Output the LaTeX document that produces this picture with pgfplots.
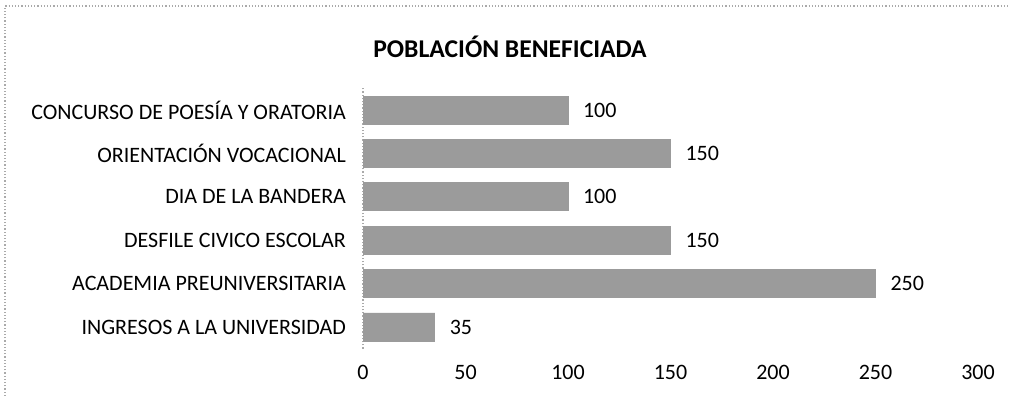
\documentclass[border=0pt]{standalone}
\usepackage{fontspec}
\setmainfont{Carlito}
\usepackage{pgfplots}
\pgfplotsset{compat=1.18}
\definecolor{barfill}{RGB}{155,155,155}
\definecolor{framegray}{RGB}{170,170,170}

\begin{document}
\begin{tikzpicture}
\useasboundingbox (0,0) rectangle (506.5pt,198pt);
\draw[framegray, densely dotted, line width=0.6pt] (2.5pt,0) -- (2.5pt,195pt) -- (504pt,195pt);
\node[font=\fontsize{12.8}{15}\selectfont\bfseries] at (255pt,174.5pt) {POBLACIÓN BENEFICIADA};
\begin{axis}[
  at={(181.5pt,23.65pt)}, anchor=south west,
  scale only axis,
  width=307.5pt, height=130.2pt,
  xbar, bar width=14pt,
  xmin=0, xmax=300,
  ymin=-0.5, ymax=5.5,
  xtick={0,50,...,300},
  ytick={0,...,5},
  yticklabels={INGRESOS A LA UNIVERSIDAD,ACADEMIA PREUNIVERSITARIA,DESFILE CIVICO ESCOLAR,DIA DE LA BANDERA,ORIENTACIÓN VOCACIONAL,CONCURSO DE POESÍA Y ORATORIA},
  axis x line*=bottom, axis y line*=left,
  x axis line style={draw=none},
  y axis line style={framegray, densely dotted, line width=0.6pt},
  major tick length=0pt,
  tick label style={font=\fontsize{11}{13}\selectfont, black},
  xticklabel style={yshift=-4.5pt},
  yticklabel style={xshift=-5pt},
  /pgf/number format/assume math mode=true,
  nodes near coords,
  nodes near coords style={font=\fontsize{11}{13}\selectfont, anchor=west, xshift=4pt},
  every node near coord/.append style={/pgf/number format/assume math mode=true},
]
\addplot[fill=barfill, draw=barfill] coordinates {(35,0) (250,1) (150,2) (100,3) (150,4) (100,5)};
\end{axis}
\end{tikzpicture}
\end{document}
